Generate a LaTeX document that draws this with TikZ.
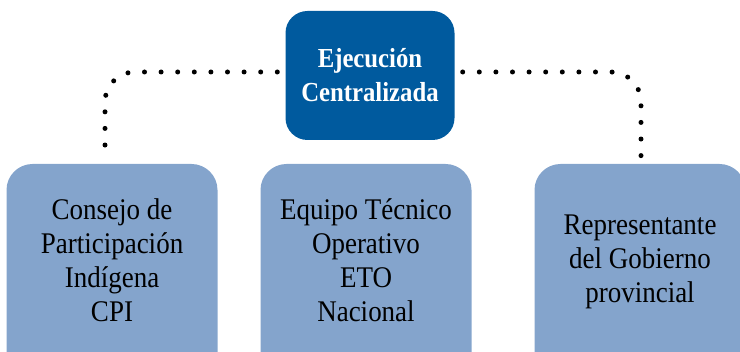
\documentclass[tikz,border=0pt]{standalone}
\usepackage{fontspec}
\setmainfont{Liberation Serif}[FakeStretch=0.9]
\usetikzlibrary{positioning}
\definecolor{topblue}{HTML}{005A9E}
\definecolor{lowblue}{HTML}{84A4CC}
\begin{document}
\begin{tikzpicture}[
    x=1pt, y=-1pt,
    head/.style={rectangle, fill=topblue, text=white, rounded corners=22pt, minimum width=169pt, minimum height=129pt, align=center, font=\fontsize{27.5}{34}\selectfont\bfseries},
    member/.style={rectangle, fill=lowblue, rounded corners=26pt, minimum width=211pt, minimum height=216pt},
    membertext/.style={align=center, text=black, font=\fontsize{30}{34}\selectfont},
    dotline/.style={line width=5pt, line cap=round, dash pattern=on 0pt off 16.6pt, rounded corners=30pt, shorten <=8pt, shorten >=3pt}
]
    \useasboundingbox (0,0) rectangle (740,352);
    \clip (0,0) rectangle (740,352);

    % Top: central execution
    \node[head] (ejec) at (370, 75.5) {Ejecución\\Centralizada};

    % Bottom row (boxes run past the lower edge)
    \node[member] (cpi) at (112, 272) {};
    \node[member] (eto) at (366, 272) {};
    \node[member] (gob) at (640, 272) {};
    \node[membertext] (cpitext) at ([yshift=12pt]cpi.center) {Consejo de\\Participación\\Indígena\\CPI};
    \node[membertext] (etotext) at ([yshift=12pt]eto.center) {Equipo Técnico\\Operativo\\ETO\\Nacional};
    \node[membertext] (gobtext) at ([yshift=10pt]gob.center) {Representante\\del Gobierno\\provincial};

    % Dotted links
    \draw[dotline] ([yshift=3.5pt]ejec.west) -| ([xshift=-7pt]cpi.north);
    \draw[dotline] ([yshift=3.5pt]ejec.east) -| ([xshift=1pt]gob.north);
\end{tikzpicture}
\end{document}
